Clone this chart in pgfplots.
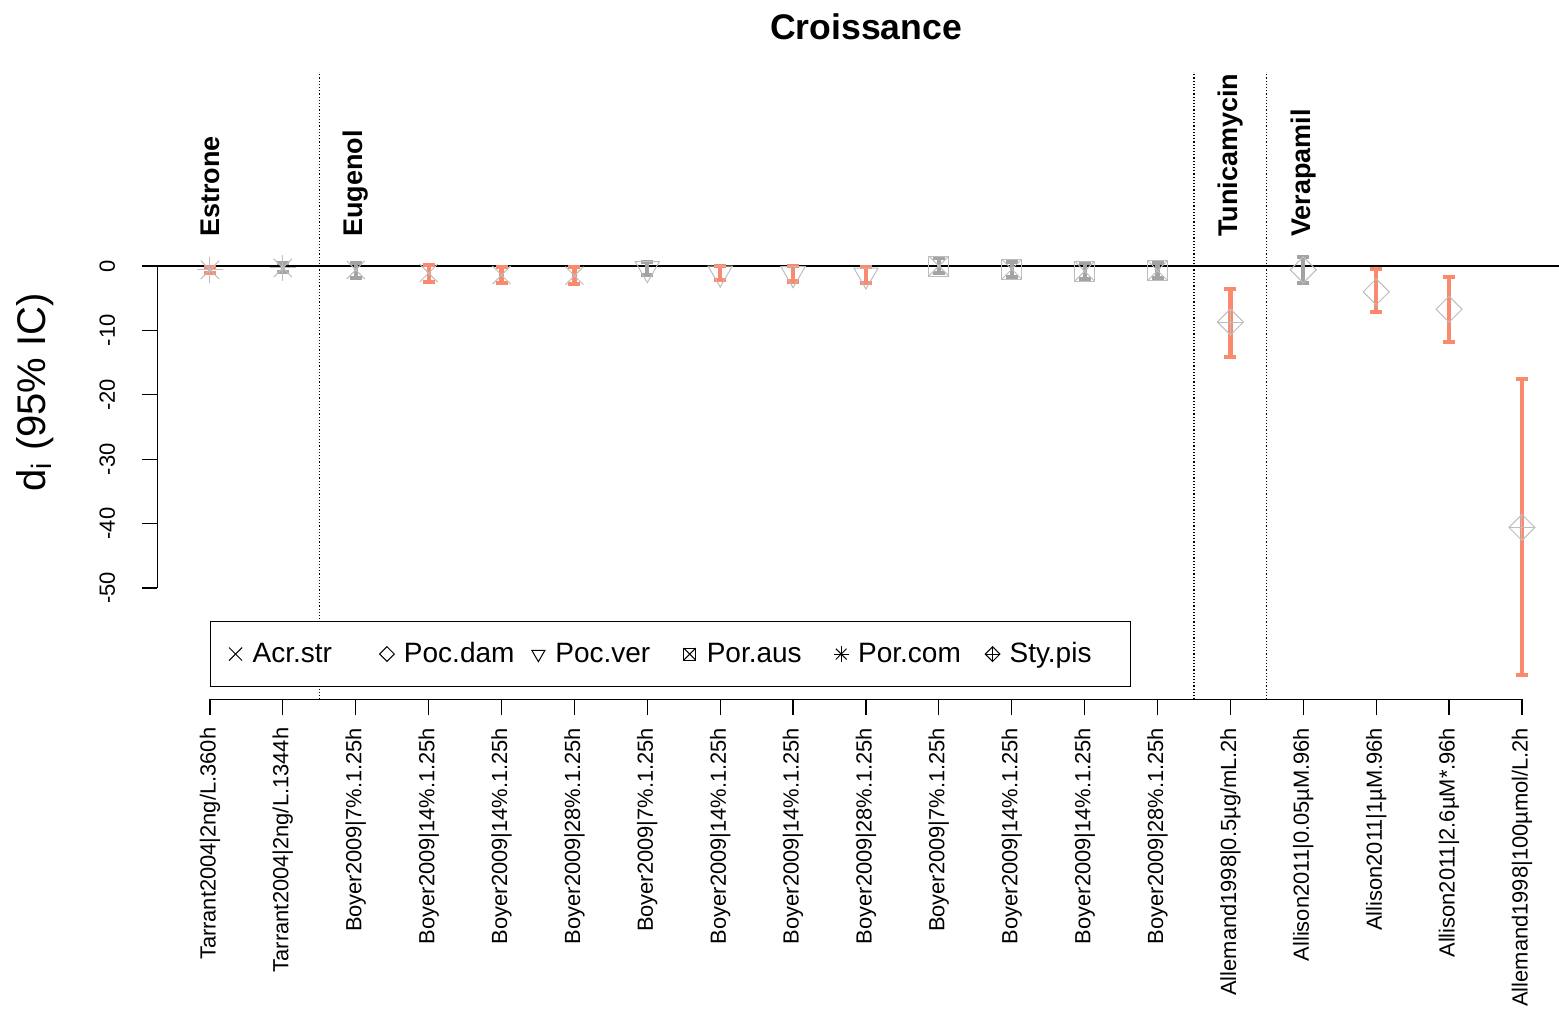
\documentclass[border=0pt]{standalone}
\usepackage{pgfplots}
\pgfplotsset{compat=1.18}
\usepackage{pgfplotstable}
\usepackage{fontspec}
\setmainfont{Liberation Sans}
\definecolor{salm}{HTML}{FA8A6E}
\definecolor{ebgray}{HTML}{A3A3A3}
\definecolor{mkgray}{HTML}{BDBDBD}

\pgfplotstableread{
x y ep em
1 -0.6 0.5 0.5
4 -1.1 1.3 1.4
5 -1.4 1.3 1.3
6 -1.5 1.3 1.3
8 -1.1 1.1 1.1
9 -1.2 1.2 1.2
10 -1.4 1.2 1.2
15 -8.7 5.1 5.4
17 -4.0 3.5 3.2
18 -6.7 5.0 5.1
19 -40.6 23.0 22.9
}\errOrange

\pgfplotstableread{
x y ep em
2 -0.3 0.8 0.6
3 -0.6 1.1 1.2
7 -0.4 1.0 1.0
11 0.0 1.2 1.1
12 -0.5 1.1 1.2
13 -0.8 1.3 1.2
14 -0.7 1.2 1.2
16 -0.6 2.0 2.0
}\errGray

\pgfplotstableread{
x y
3 -0.6
4 -1.1
5 -1.4
6 -1.5
}\acrstr

\pgfplotstableread{
x y
16 -0.6
17 -4.0
18 -6.7
}\pocdam

\pgfplotstableread{
x y
7 -0.4
8 -1.1
9 -1.2
10 -1.4
}\pocver

\pgfplotstableread{
x y
11 0.0
12 -0.5
13 -0.8
14 -0.7
}\poraus

\pgfplotstableread{
x y
1 -0.6
2 -0.3
}\porcom

\pgfplotstableread{
x y
15 -8.7
19 -40.6
}\stypis

\begin{document}
\begin{tikzpicture}
\useasboundingbox (0,0) rectangle (779.5pt,505.5pt);
\begin{axis}[
  at={(78.75pt,155.8pt)}, anchor=south west,
  scale only axis, width=700.75pt, height=313.6pt,
  xmin=0.28, xmax=19.508, ymin=-67.3, ymax=30.1,
  clip=false,
  axis line style={draw=none},
  tick pos=left, tick align=outside,
  major tick length=8pt,
  tick style={black, line width=0.6pt},
  xtick={1,...,19},
  xticklabels={Tarrant2004|2ng/L.360h, Tarrant2004|2ng/L.1344h, Boyer2009|7\%.1.25h, Boyer2009|14\%.1.25h, Boyer2009|14\%.1.25h, Boyer2009|28\%.1.25h, Boyer2009|7\%.1.25h, Boyer2009|14\%.1.25h, Boyer2009|14\%.1.25h, Boyer2009|28\%.1.25h, Boyer2009|7\%.1.25h, Boyer2009|14\%.1.25h, Boyer2009|14\%.1.25h, Boyer2009|28\%.1.25h, Allemand1998|0.5µg/mL.2h, Allison2011|0.05µM.96h, Allison2011|1µM.96h, Allison2011|2.6µM*.96h, Allemand1998|100µmol/L.2h},
  xticklabel style={rotate=90, anchor=east, inner sep=0pt, font=\fontsize{10.95}{12}\selectfont},
  xticklabel shift=6pt,
  ytick={0,-10,-20,-30,-40,-50},
  yticklabels={0,-10,-20,-30,-40,-50},
  yticklabel style={rotate=90, anchor=south, inner sep=0pt, font=\fontsize{11}{12}\selectfont},
  yticklabel shift=13pt,
  legend columns=6,
  legend cell align=left,
  legend style={at={(axis cs:1,-55.1)}, anchor=north west, draw=black, line width=0.6pt,
    inner xsep=0pt, inner ysep=10.5pt, column sep=0pt, row sep=0pt,
    nodes={inner sep=0pt}, font=\fontsize{14}{16}\selectfont},
]
% reference lines
\addplot[black, line width=0.6pt, forget plot] coordinates {(0.28,0) (19.508,0)};
\addplot[black, densely dotted, line width=0.6pt, forget plot] coordinates {(2.5,-67.3) (2.5,30.1)};
\addplot[black, densely dotted, line width=0.6pt, forget plot] coordinates {(14.5,-67.3) (14.5,30.1)};
\addplot[black, densely dotted, line width=0.6pt, forget plot] coordinates {(15.5,-67.3) (15.5,30.1)};

% markers
\addplot[forget plot, only marks, mark=x, mark size=6.4pt, color=mkgray, line width=0.5pt] table[x=x,y=y] {\acrstr};
\addplot[forget plot, only marks, mark=square, mark size=4.6pt, mark options={rotate=45}, color=mkgray, line width=0.5pt] table[x=x,y=y] {\pocdam};
\addplot[forget plot, only marks, mark=triangle, mark size=7pt, mark options={rotate=180}, color=mkgray, line width=0.5pt] table[x=x,y=y] {\pocver};
\addplot[forget plot, only marks, mark=square, mark size=5pt, color=mkgray, line width=0.5pt] table[x=x,y=y] {\poraus};
\addplot[forget plot, only marks, mark=x, mark size=7.07pt, color=mkgray, line width=0.5pt] table[x=x,y=y] {\poraus};
\addplot[forget plot, only marks, mark=+, mark size=6.5pt, color=mkgray, line width=0.5pt] table[x=x,y=y] {\porcom};
\addplot[forget plot, only marks, mark=x, mark size=6.5pt, color=mkgray, line width=0.5pt] table[x=x,y=y] {\porcom};
\addplot[forget plot, only marks, mark=square, mark size=4.6pt, mark options={rotate=45}, color=mkgray, line width=0.5pt] table[x=x,y=y] {\stypis};
\addplot[forget plot, only marks, mark=+, mark size=6.5pt, color=mkgray, line width=0.5pt] table[x=x,y=y] {\stypis};

% error bars
\addplot[forget plot, only marks, mark=text, text mark={}, color=salm,
  error bars/.cd, y dir=both, y explicit,
  error bar style={color=salm, line width=2.1pt},
  error mark options={rotate=90, color=salm, line width=2.1pt, mark size=3pt}]
  table[x=x, y=y, y error plus=ep, y error minus=em] {\errOrange};
\addplot[forget plot, only marks, mark=text, text mark={}, color=ebgray,
  error bars/.cd, y dir=both, y explicit,
  error bar style={color=ebgray, line width=2.1pt},
  error mark options={rotate=90, color=ebgray, line width=2.1pt, mark size=3pt}]
  table[x=x, y=y, y error plus=ep, y error minus=em] {\errGray};

% legend
\addlegendimage{black, line width=0.5pt, mark size=4.6pt, legend image code/.code={\path[draw=none,fill=none] (-12.5pt,-4pt) rectangle (8.5pt,4pt); \pgfuseplotmark{x}}}
\addlegendentry{\makebox[54.7pt][l]{Acr.str}}
\addlegendimage{black, line width=0.5pt, mark size=2.6pt, legend image code/.code={\path[draw=none,fill=none] (-12.5pt,-4pt) rectangle (8.5pt,4pt); \begin{scope}[rotate=45]\pgfuseplotmark{square}\end{scope}}}
\addlegendentry{\makebox[54.7pt][l]{Poc.dam}}
\addlegendimage{black, line width=0.5pt, mark size=3.8pt, legend image code/.code={\path[draw=none,fill=none] (-12.5pt,-4pt) rectangle (8.5pt,4pt); \begin{scope}[rotate=180]\pgfuseplotmark{triangle}\end{scope}}}
\addlegendentry{\makebox[54.7pt][l]{Poc.ver}}
\addlegendimage{black, line width=0.5pt, mark size=3pt, legend image code/.code={\path[draw=none,fill=none] (-12.5pt,-4pt) rectangle (8.5pt,4pt); \pgfuseplotmark{square}\pgfsetplotmarksize{4.24pt}\pgfuseplotmark{x}}}
\addlegendentry{\makebox[54.7pt][l]{Por.aus}}
\addlegendimage{black, line width=0.5pt, mark size=3.8pt, legend image code/.code={\path[draw=none,fill=none] (-12.5pt,-4pt) rectangle (8.5pt,4pt); \pgfuseplotmark{+}\pgfuseplotmark{x}}}
\addlegendentry{\makebox[54.7pt][l]{Por.com}}
\addlegendimage{black, line width=0.5pt, mark size=2.6pt, legend image code/.code={\path[draw=none,fill=none] (-12.5pt,-4pt) rectangle (8.5pt,4pt); \begin{scope}[rotate=45]\pgfuseplotmark{square}\end{scope}\pgfsetplotmarksize{3.7pt}\pgfuseplotmark{+}}}
\addlegendentry{\makebox[60.5pt][l]{Sty.pis}}

% axis lines
\draw[black, line width=0.6pt] (axis cs:1,-67.3) -- (axis cs:19,-67.3);
\draw[black, line width=0.6pt] (axis cs:0.28,0) -- (axis cs:0.28,-50);

% texts
\node[font=\bfseries\fontsize{17.8}{20}\selectfont] at (axis cs:10,37.1) {Croissance};
\node[rotate=90, font=\fontsize{20}{24}\selectfont] at (axis cs:-1.40,-19.6) {d\textsubscript{i} (95\% IC)};
\node[rotate=90, anchor=west, inner sep=0pt, font=\bfseries\fontsize{13.5}{15}\selectfont] at (axis cs:1,4.45) {Estrone};
\node[rotate=90, anchor=west, inner sep=0pt, font=\bfseries\fontsize{13.5}{15}\selectfont] at (axis cs:3,4.45) {Eugenol};
\node[rotate=90, anchor=west, inner sep=0pt, font=\bfseries\fontsize{13.5}{15}\selectfont] at (axis cs:15,4.45) {Tunicamycin};
\node[rotate=90, anchor=west, inner sep=0pt, font=\bfseries\fontsize{13.5}{15}\selectfont] at (axis cs:16,4.45) {Verapamil};
\end{axis}
\end{tikzpicture}
\end{document}
